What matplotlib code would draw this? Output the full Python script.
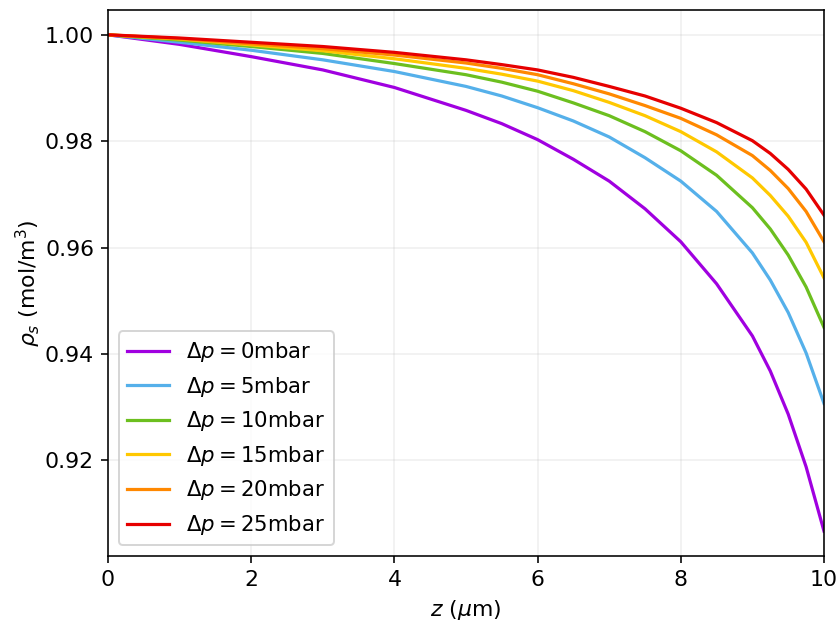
import matplotlib
matplotlib.use("Agg")
import matplotlib.pyplot as plt

plt.rcParams["font.size"] = 11

# z positions (um) where the curves were read
z = [0, 1, 2, 3, 4, 5, 5.5, 6, 6.5, 7, 7.5, 8, 8.5, 9, 9.25, 9.5, 9.75, 10]

# rho_s for each pressure difference
rho_0 = [1.0000, 0.9982, 0.9959, 0.9934, 0.9901, 0.9858, 0.9833, 0.9803, 0.9766,
         0.9725, 0.9673, 0.9611, 0.9532, 0.9434, 0.9368, 0.9287, 0.9188, 0.9067]
rho_5 = [1.0000, 0.9986, 0.9971, 0.9953, 0.9931, 0.9903, 0.9885, 0.9863, 0.9838,
         0.9808, 0.9769, 0.9725, 0.9668, 0.9590, 0.9539, 0.9478, 0.9402, 0.9307]
rho_10 = [1.0000, 0.9990, 0.9978, 0.9965, 0.9946, 0.9925, 0.9911, 0.9894, 0.9872,
          0.9848, 0.9818, 0.9782, 0.9736, 0.9675, 0.9635, 0.9586, 0.9526, 0.9450]
rho_15 = [1.0000, 0.9992, 0.9981, 0.9970, 0.9955, 0.9937, 0.9926, 0.9913, 0.9895,
          0.9873, 0.9848, 0.9818, 0.9780, 0.9731, 0.9698, 0.9659, 0.9610, 0.9543]
rho_20 = [1.0000, 0.9993, 0.9983, 0.9974, 0.9962, 0.9947, 0.9937, 0.9925, 0.9908,
          0.9889, 0.9867, 0.9843, 0.9812, 0.9773, 0.9745, 0.9711, 0.9668, 0.9611]
rho_25 = [1.0000, 0.9994, 0.9986, 0.9978, 0.9967, 0.9953, 0.9944, 0.9934, 0.9920,
          0.9903, 0.9885, 0.9862, 0.9835, 0.9801, 0.9777, 0.9747, 0.9710, 0.9661]

dps = [0, 5, 10, 15, 20, 25]
series = [rho_0, rho_5, rho_10, rho_15, rho_20, rho_25]
colors = ["#a000e0", "#55b0ea", "#6cbf1f", "#ffc800", "#ff8800", "#e60000"]

fig = plt.figure(figsize=(839 / 144, 621 / 144), dpi=144)
ax = fig.add_axes([108 / 839, 1 - 556 / 621, 716 / 839, 546 / 621])

for dp, rho, c in zip(dps, series, colors):
    ax.plot(z, rho, color=c, lw=1.6, label=rf"$\Delta p = {dp}$mbar")

ax.set_xlim(0, 10)
ax.grid(True, color="#b0b0b0", alpha=0.2, lw=0.8)
ax.set_xlabel(r"$z$ ($\mu$m)")
ax.set_ylabel(r"$\rho_s$ (mol/m$^3$)", labelpad=1)
ax.legend(loc="lower left", fontsize=10.6)

fig.savefig("out.png", dpi=144)
plt.close(fig)
